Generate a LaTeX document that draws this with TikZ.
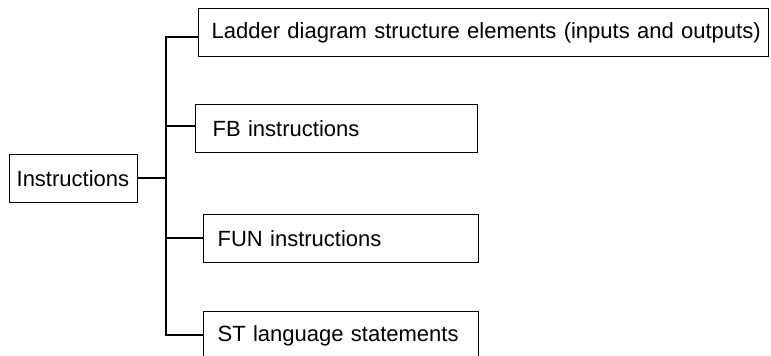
\documentclass[tikz,border=0pt]{standalone}
\usepackage{fontspec}
\setmainfont{Liberation Sans}
\begin{document}
\begin{tikzpicture}[x=1pt,y=-1pt,
  box/.style={draw, line width=1.3pt, rectangle, anchor=north west, inner sep=0pt, align=left, font=\fontsize{22}{26}\selectfont, minimum height=48pt},
  link/.style={line width=1.3pt}]
\useasboundingbox (0,0) rectangle (771,356);
\node[box, minimum width=128pt, text width=128pt] (ins) at (9,154) {\hspace*{7pt}\mbox{Instructions}};
\node[box, minimum width=570pt, text width=570pt] (b1) at (198,8) {\hspace*{13pt}\mbox{Ladder diagram structure elements (inputs and outputs)}};
\node[box, minimum width=282pt, text width=282pt] (b2) at (195,104) {\hspace*{17pt}\mbox{FB instructions}};
\node[box, minimum width=275pt, text width=275pt] (b3) at (203,214) {\hspace*{14pt}\mbox{FUN instructions}};
\node[box, minimum width=275pt, text width=275pt] (b4) at (203,311) {\hspace*{14pt}\mbox{ST language statements}};
\coordinate (t0) at (166,178);
\coordinate (t1) at (166,37);
\coordinate (t2) at (166,126);
\coordinate (t3) at (166,238);
\coordinate (t4) at (166,335);
\draw[link] (ins.east |- t0) -- (t0);
\draw[link] (t1 -| b1.west) -- (t1) -- (t4) -- (t4 -| b4.west);
\draw[link] (t2) -- (t2 -| b2.west);
\draw[link] (t3) -- (t3 -| b3.west);
\end{tikzpicture}
\end{document}
